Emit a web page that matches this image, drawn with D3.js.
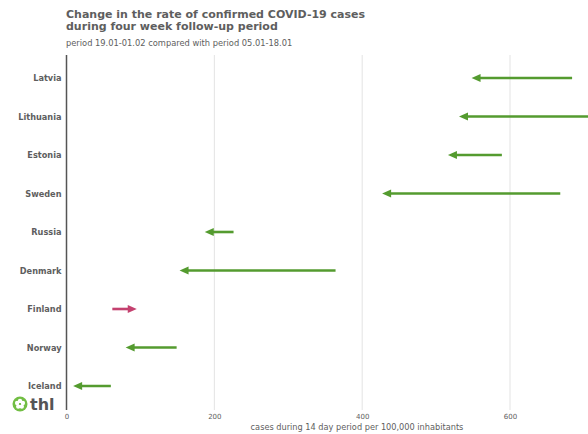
<!DOCTYPE html>
<html><head><meta charset="utf-8">
<script src="https://cdn.jsdelivr.net/npm/d3@7"></script>
<style>body{margin:0;background:#fff;font-family:"DejaVu Sans",sans-serif;}</style>
</head><body>
<svg id="c" width="588" height="434"></svg>
<script>
const countries = ["Latvia","Lithuania","Estonia","Sweden","Russia","Denmark","Finland","Norway","Iceland"];
const previous = [684, 725, 589, 668, 226, 364, 62, 149, 60];
const current  = [548, 531, 516, 427, 187, 153, 95, 80, 9];
const xTicks = [0, 200, 400, 600];

(function(){
const svg = d3.select("#c");
const x = d3.scaleLinear().domain([0, 600]).range([66.5, 510]);
const y = d3.scalePoint().domain(countries).range([78, 386]);
const yTop = 55, yBot = 410;
const txt = "#5e5e5e";

svg.append("text").attr("x", 66).attr("y", 18).attr("font-size", 11).attr("font-weight", "bold").attr("fill", txt).text("Change in the rate of confirmed COVID-19 cases");
svg.append("text").attr("x", 66).attr("y", 29.5).attr("font-size", 11).attr("font-weight", "bold").attr("fill", txt).text("during four week follow-up period");
svg.append("text").attr("x", 66).attr("y", 45.5).attr("font-size", 8.3).attr("fill", txt).text("period 19.01-01.02 compared with period 05.01-18.01");

// grid
svg.append("g").selectAll("line").data(xTicks.filter(d => d > 0)).join("line")
  .attr("x1", d => x(d)).attr("x2", d => x(d)).attr("y1", yTop).attr("y2", yBot)
  .attr("stroke", "#e3e3e3").attr("stroke-width", 1);

// x axis labels
const xa = svg.append("g").attr("transform", `translate(0,${yBot})`)
  .call(d3.axisBottom(x).tickValues(xTicks).tickSize(0).tickPadding(4));
xa.select(".domain").remove();
xa.selectAll("text").attr("font-size", 7).attr("fill", txt).attr("font-family", "DejaVu Sans");

svg.append("text").attr("x", 357).attr("y", 430).attr("text-anchor", "middle").attr("font-size", 8.2).attr("fill", txt).text("cases during 14 day period per 100,000 inhabitants");

// y axis
svg.append("line").attr("x1", x(0)).attr("x2", x(0)).attr("y1", yTop).attr("y2", yBot).attr("stroke", "#555").attr("stroke-width", 1.5);
const ya = svg.append("g").attr("transform", `translate(${x(0) - 5},0)`)
  .call(d3.axisLeft(y).tickSize(0).tickPadding(0));
ya.select(".domain").remove();
ya.selectAll("text").attr("font-size", 8.2).attr("font-weight", "bold").attr("fill", txt).attr("font-family", "DejaVu Sans").attr("dy", "0.32em");

// arrows
const green = "#549b2f", pink = "#c4416f";
const data = countries.map((c, i) => ({c, p: previous[i], v: current[i]}));
const g = svg.append("g");
data.forEach(d => {
  const col = d.v > d.p ? pink : green;
  const dir = d.v > d.p ? 1 : -1;
  const x0 = x(d.p), x1 = x(d.v), yy = y(d.c);
  const head = 9;
  g.append("line").attr("x1", x0).attr("x2", x1 - dir * head * 0.6).attr("y1", yy).attr("y2", yy)
    .attr("stroke", col).attr("stroke-width", 2.6);
  g.append("path").attr("d", `M${x1},${yy} L${x1 - dir*head},${yy-4} L${x1 - dir*head},${yy+4} Z`).attr("fill", col);
});

// logo
const lg = svg.append("g").attr("transform", "translate(20,404)");
lg.append("circle").attr("r", 7.5).attr("fill", "#72be44");
for (let k = 0; k < 5; k++) {
  const a = -Math.PI/2 + k * 2*Math.PI/5;
  lg.append("circle").attr("cx", 3*Math.cos(a)).attr("cy", 3*Math.sin(a)).attr("r", 2.2).attr("fill", "#fff");
}
lg.append("circle").attr("r", 1).attr("fill", "#72be44");
svg.append("text").attr("x", 30).attr("y", 410).attr("font-size", 16).attr("font-weight", "bold").attr("fill", "#555").attr("font-family", "DejaVu Sans").text("thl");
})();
</script>
</body></html>
